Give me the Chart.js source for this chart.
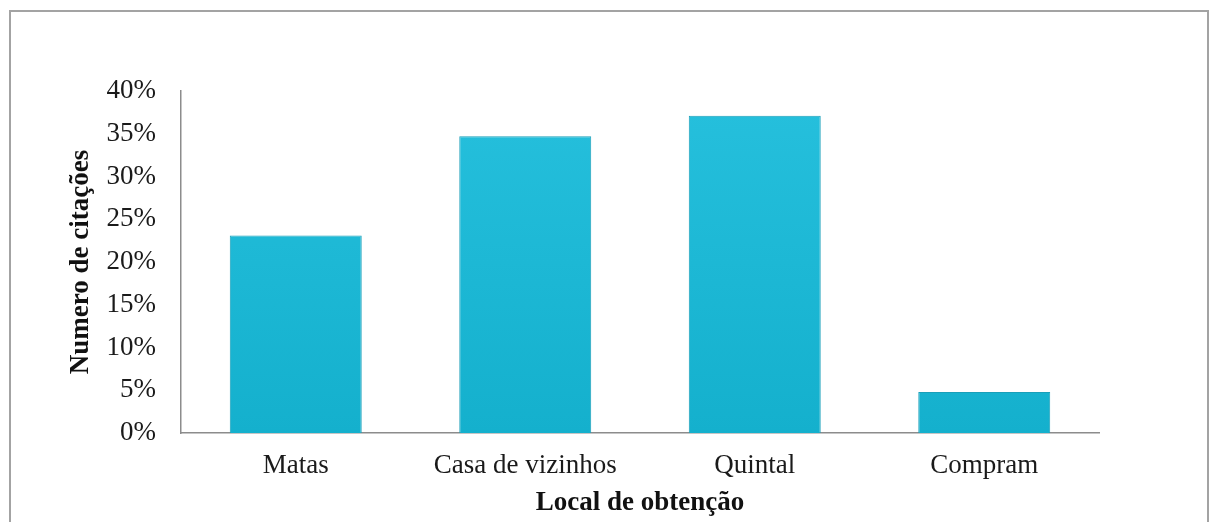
<!DOCTYPE html>
<html>
<head>
<meta charset="utf-8">
<script src="https://cdn.jsdelivr.net/npm/chart.js@4"></script>
<style>
  html, body { margin: 0; padding: 0; background: #fff; }
  #wrap { width: 1209px; height: 522px; }
</style>
</head>
<body>
<div id="wrap"><canvas id="myChart" width="1209" height="522"></canvas></div>
<script>
var categories = ['Matas', 'Casa de vizinhos', 'Quintal', 'Compram'];
var citacoes = [23.1, 34.7, 37.1, 4.8];
var yTicks = [0, 5, 10, 15, 20, 25, 30, 35, 40];

// moldura cinza em volta do gráfico
var frame = {
  id: 'frame',
  beforeDraw: function (chart) {
    var c = chart.ctx;
    c.save();
    c.strokeStyle = '#a3a3a3';
    c.lineWidth = 2;
    c.strokeRect(10, 11, 1198, 540);
    c.restore();
  }
};

function barFill(context) {
  var area = context.chart.chartArea;
  if (!area) return '#20bcd9';
  var g = context.chart.ctx.createLinearGradient(0, area.top, 0, area.bottom);
  g.addColorStop(0, '#26c0dd');
  g.addColorStop(1, '#14b0cd');
  return g;
}

var ctx = document.getElementById('myChart').getContext('2d');
var myChart = new Chart(ctx, {
  type: 'bar',
  data: {
    labels: categories,
    datasets: [{
      data: citacoes,
      backgroundColor: barFill,
      borderColor: '#1a9fb9',
      borderWidth: 1,
      categoryPercentage: 1,
      barPercentage: 0.575
    }]
  },
  options: {
    responsive: false,
    animation: false,
    layout: { padding: { top: 91, right: 110, left: 0, bottom: 0 } },
    plugins: { legend: { display: false }, tooltip: { enabled: false } },
    scales: {
      x: {
        grid: { display: false, drawTicks: false },
        border: { display: true, color: '#8c8c8c', width: 1.5 },
        ticks: {
          padding: 17,
          color: '#1a1a1a',
          font: { family: 'Liberation Serif', size: 27 }
        },
        title: {
          display: true,
          text: 'Local de obtenção',
          color: '#111',
          padding: { top: 0, bottom: 3 },
          font: { family: 'Liberation Serif', size: 27, weight: 'bold' }
        },
        afterFit: function (scale) { scale.height = 89; }
      },
      y: {
        min: 0,
        max: 40,
        grid: { display: false, drawTicks: false },
        border: { display: true, color: '#8c8c8c', width: 1.5 },
        afterBuildTicks: function (scale) {
          scale.ticks = yTicks.map(function (v) { return { value: v }; });
        },
        ticks: {
          padding: 25,
          color: '#1a1a1a',
          font: { family: 'Liberation Serif', size: 27 },
          callback: function (v) { return v + '%'; }
        },
        title: {
          display: true,
          text: 'Numero de citações',
          color: '#111',
          padding: { top: 65, bottom: 0 },
          font: { family: 'Liberation Serif', size: 27, weight: 'bold' }
        },
        afterFit: function (scale) { scale.width = 181; }
      }
    }
  },
  plugins: [frame]
});
</script>
</body>
</html>
